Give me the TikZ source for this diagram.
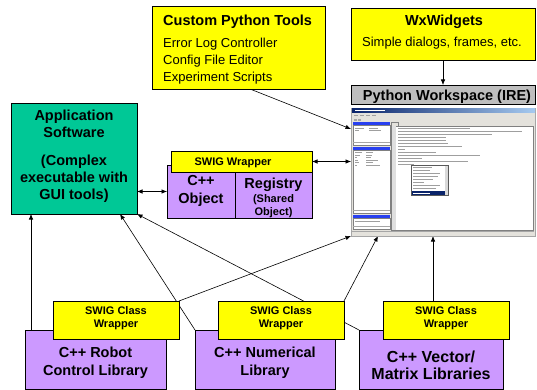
\documentclass[tikz,border=0pt]{standalone}
\usepackage{fontspec}
\setmainfont{Liberation Sans}
\usetikzlibrary{arrows.meta,backgrounds}
\definecolor{tealc}{HTML}{00C896}
\definecolor{yellc}{HTML}{FFFF00}
\definecolor{purpc}{HTML}{CC99FF}
\definecolor{grayc}{HTML}{BEBEBE}
\definecolor{winbg}{HTML}{E4E2DC}
\definecolor{navyc}{HTML}{0A246A}
\definecolor{ltbluec}{HTML}{A6CAF0}
\definecolor{panelblue}{HTML}{2840F0}
\begin{document}
\begin{tikzpicture}[x=1pt,y=-1pt,
  bx/.style={draw=black,line width=0.7pt,inner sep=0pt,outer sep=0pt},
  ybox/.style={bx,fill=yellc},
  pbox/.style={bx,fill=purpc},
  fA/.style={font=\fontsize{14.5}{17}\selectfont\bfseries,inner sep=0pt},
  fAr/.style={font=\fontsize{14.5}{18}\selectfont\bfseries,inner sep=0pt,align=center},
  fB/.style={font=\fontsize{13}{17}\selectfont,inner sep=0pt},
  fS/.style={font=\fontsize{11}{13}\selectfont\bfseries,inner sep=0pt,align=center},
  fV/.style={font=\fontsize{16}{17}\selectfont\bfseries,inner sep=0pt,align=center},
  arr/.style={-{Latex[length=5.5pt,width=4.5pt]},line width=0.6pt},
  darr/.style={{Latex[length=5.5pt,width=4.5pt]}-{Latex[length=5.5pt,width=4.5pt]},line width=0.6pt},
  tl/.style={line width=0.35pt,draw=gray!75},
]
\useasboundingbox (0,0) rectangle (537,390);

% main boxes
\node[bx,fill=tealc,minimum width=126,minimum height=111] (app) at (74,158.5) {};
\node[ybox,minimum width=173,minimum height=83] (cpt) at (238.5,47.5) {};
\node[ybox,minimum width=184,minimum height=52] (wx) at (443,34) {};
\node[bx,fill=grayc,minimum width=184,minimum height=19] (ire) at (443,94.5) {};
\node[draw=gray!70,fill=winbg,line width=0.5pt,inner sep=0pt,outer sep=0pt,minimum width=184,minimum height=128] (scr) at (443,172) {};

% screenshot content
\shade[left color=navyc,right color=ltbluec] (352,108.5) rectangle (535,112.5);
\draw[white,line width=0.4pt] (355,110.5) -- (385,110.5);
\foreach \x in {354,360,366,372} \draw[tl] (\x,115.5) -- ++(4,0);
\fill[gray!70] (354,119) rectangle ++(2.5,2);
\fill[gray!70] (358,119) rectangle ++(2.5,2);
% left panels
\fill[panelblue] (353,122.5) rectangle (390,125.5);
\filldraw[fill=white,draw=gray,line width=0.3pt] (353,125.5) rectangle (390,145);
\draw[tl] (355,127.8) -- (364,127.8) (369,127.8) -- (378,127.8);
\draw[tl] (355,130.5) -- (359,130.5) (369,130.5) -- (381,130.5);
\draw[gray!70,line width=0.3pt] (353,142) -- (390,142);
\fill[panelblue] (353,147) rectangle (390,150);
\filldraw[fill=white,draw=gray,line width=0.3pt] (353,150) rectangle (390,213);
\foreach \y/\a/\b in {152.5/362/373,155/360/372,157.5/357/371,160/358/378,162.5/359/373,165/357/380}
  \draw[tl] (355,\y) -- (\a,\y) (366,\y) -- (\b,\y);
\draw[gray!70,line width=0.3pt] (353,210) -- (390,210);
\fill[panelblue] (353,215) rectangle (390,218);
\filldraw[fill=white,draw=gray,line width=0.3pt] (353,218) rectangle (390,229);
\draw[tl] (355,221) -- (380,221);
\draw[gray!70,line width=0.3pt] (353,226) -- (390,226);
% shell area
\draw[gray,line width=0.3pt] (391,126) -- (391,122.5) -- (398,122.5) -- (398,126);
\filldraw[fill=white,draw=gray,line width=0.3pt] (391,126) rectangle (533,230);
\fill[gray!25] (391.5,126.5) rectangle (396,229.5);
\foreach \y/\e in {128.5/470,131.5/522,134.5/492,137.5/446,140.5/446,143.5/448,146.5/462,149.5/405,152.5/436,155.5/480,158.5/422,161.5/468,164.5/414}
  \draw[tl] (398,\y) -- (\e,\y);
% popup
\filldraw[fill=white,draw=gray!70!black,line width=0.3pt] (411,165) rectangle (448,195);
\fill[gray!30] (445.3,165.5) rectangle (447.6,194.5);
\foreach \y/\e in {167.5/432,170.5/430,173.5/440,176.5/438,179.5/433,182.5/424,185.5/440,188.5/436}
  \draw[tl,line width=0.3pt] (413,\y) -- (\e,\y);
\fill[navyc] (411.5,191.2) rectangle (445,194.6);
\draw[white,line width=0.3pt] (413,193) -- (430,193);
\draw[gray!70,line width=0.3pt] (352,231.5) -- (534,231.5);

% SWIG wrapper / object
\node[pbox,minimum width=68,minimum height=53] (objL) at (201,191.5) {};
\node[pbox,minimum width=77,minimum height=53] (objR) at (273.5,191.5) {};
\node[ybox,minimum width=141,minimum height=21] (swig) at (241.5,161.5) {};

% bottom libraries
\node[pbox,minimum width=141,minimum height=59] (robP) at (95.5,359.5) {};
\node[ybox,minimum width=126,minimum height=38] (robS) at (116,320) {};
\node[pbox,minimum width=140,minimum height=59] (numP) at (265,359.5) {};
\node[ybox,minimum width=126,minimum height=38] (numS) at (281,320) {};
\node[pbox,minimum width=144,minimum height=59] (vecP) at (431,359.5) {};
\node[ybox,minimum width=126,minimum height=38] (vecS) at (446,320) {};

% texts
\node[fA,align=center] (appT) at (74,156.5) {Application\\Software\\[11pt](Complex\\executable with\\GUI tools)};
\node[fA,anchor=base west] (cptT) at (163,26) {Custom Python Tools};
\node[fB,anchor=base west] (cpt1) at (163,47.7) {Error Log Controller};
\node[fB,anchor=base west] (cpt2) at (163,64.7) {Config File Editor};
\node[fB,anchor=base west] (cpt3) at (163,81.7) {Experiment Scripts};
\node[fA,anchor=base] (wxT) at (444,26) {WxWidgets};
\node[fB,anchor=base] (wx1) at (442,47) {Simple dialogs, frames, etc.};
\node[fA,anchor=base] (ireT) at (447,100.2) {Python Workspace (IRE)};
\node[fS,anchor=base] (swigT) at (233,165.7) {SWIG Wrapper};
\node[fAr] (objLT) at (201,191) {C++\\Object};
\node[fA,anchor=base] (objR1) at (273.5,188.2) {Registry};
\node[fS,anchor=base] (objR2) at (273.5,202) {(Shared};
\node[fS,anchor=base] (objR3) at (273.5,215) {Object)};
\node[fS] (robST) at (116,318.5) {SWIG Class\\Wrapper};
\node[fS] (numST) at (281,318.5) {SWIG Class\\Wrapper};
\node[fS] (vecST) at (446,318.5) {SWIG Class\\Wrapper};
\node[fAr] (robPT) at (95.5,363) {C++ Robot\\Control Library};
\node[fAr] (numPT) at (265,363) {C++ Numerical\\Library};
\node[fV] (vecPT) at (431,365.5) {C++ Vector/\\Matrix Libraries};

% connectors
\begin{pgfonlayer}{background}
\draw[arr] ([xshift=6pt]robP.north west) -- ([xshift=6pt]robP.north west |- app.south);
\draw[arr] (numP.north west) -- ([xshift=-17pt]app.south east);
\draw[arr] (vecP.north west) -- (app.south east);
\draw[arr] (robS.north east) -- (scr.south west);
\draw[arr] (numS.north east) -- ([xshift=27pt]scr.south west);
\draw[arr] ([xshift=50pt]vecS.north west) -- ([xshift=50pt]vecS.north west |- scr.south);
\draw[arr] ([xshift=11.5pt]cpt.south) -- ([yshift=-21pt]scr.north west);
\draw[arr] (wx) -- (ire);
\draw[darr] (app.east |- objL.west) -- (objL.west);
\draw[darr] (swig.east) -- (scr.west |- swig.east);
\end{pgfonlayer}
\end{tikzpicture}
\end{document}
